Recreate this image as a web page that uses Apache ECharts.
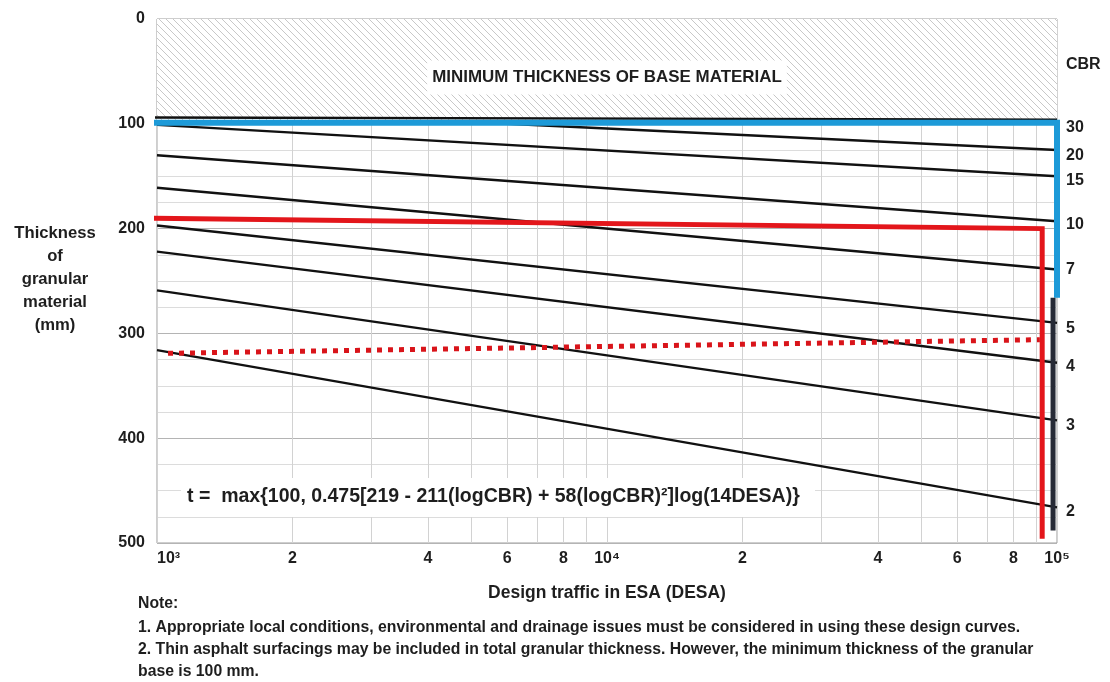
<!DOCTYPE html>
<html><head><meta charset="utf-8">
<script src="https://cdn.jsdelivr.net/npm/echarts@6/dist/echarts.min.js"></script>
<style>html,body{margin:0;padding:0;background:#fff}#c{width:1110px;height:682px}</style>
</head><body><div id="c"></div><script>
// ---------- data ----------
const cbrNames = ['30','20','15','10','7','5','4','3','2'];
const cbr30 = [[871,94],[100000,96]];
const cbr20 = [[1000,100],[6000,100],[100000,125]];
const cbr15 = [[1000,101],[100000,150]];
const cbr10 = [[1000,130],[100000,193]];
const cbr7  = [[1000,161],[100000,239]];
const cbr5  = [[1000,197],[100000,290]];
const cbr4  = [[1000,222],[100000,328]];
const cbr3  = [[1000,259],[100000,383]];
const cbr2  = [[1000,316],[100000,466]];
const cbrLabelMm = [104,130,154,196,239,295,332,388,470];
const blueMin   = [[931,99],[100000,99],[100000,266]];
const darkRight = [[98000,266],[98000,488]];
const redSolid  = [[975,190],[92700,200],[92700,496]];
const redDotted = [[1058,319],[91600,306]];
const xLabelValues = [1000,2000,4000,6000,8000,10000,20000,40000,60000,80000,100000];
const xLabelTexts  = ['10³','2','4','6','8','10⁴','2','4','6','8','10⁵'];
const xGridValues  = [1000,2000,3000,4000,5000,6000,7000,8000,9000,10000,20000,30000,40000,50000,60000,70000,80000,90000,100000];
const yMin = 0, yMax = 500, yStep = 100, yMinorSplit = 4;
const hatchText = 'MINIMUM THICKNESS OF BASE MATERIAL';
const formulaText = 't =  max{100, 0.475[219 - 211(logCBR) + 58(logCBR)²]log(14DESA)}';
const yName = 'Thickness\nof\ngranular\nmaterial\n(mm)';
const xName = 'Design traffic in ESA (DESA)';
const notes = ['Note:',
 '1. Appropriate local conditions, environmental and drainage issues must be considered in using these design curves.',
 '2. Thin asphalt surfacings may be included in total granular thickness. However, the minimum thickness of the granular',
 'base is 100 mm.'];

// ---------- helpers ----------
const FONT = '"Liberation Sans", Arial, Helvetica, sans-serif';
const mctx = document.createElement('canvas').getContext('2d');
function fit(text, w){ mctx.font = 'bold 100px ' + FONT; return +(100*w/mctx.measureText(text).width).toFixed(2); }
function hatch(){
  const s = 7, c = document.createElement('canvas'); c.width = c.height = s;
  const g = c.getContext('2d'); g.fillStyle = '#fff'; g.fillRect(0,0,s,s);
  g.strokeStyle = '#c2c2c2'; g.lineWidth = 0.9; g.beginPath();
  g.moveTo(0,0); g.lineTo(s,s); g.moveTo(-1,s-1); g.lineTo(1,s+1); g.moveTo(s-1,-1); g.lineTo(s+1,1);
  g.stroke(); return c;
}
function nearestIdx(v, arr){ let b=0,d=1e9; arr.forEach((a,i)=>{const e=Math.abs(Math.log10(v)-Math.log10(a)); if(e<d){d=e;b=i;}}); return b; }

const txt = '#1e1e1e';
const curves = [cbr30,cbr20,cbr15,cbr10,cbr7,cbr5,cbr4,cbr3,cbr2];
const series = [];
series.push({type:'line', data:[], z:1, silent:true,
  markArea:{silent:true, itemStyle:{color:{image:hatch(), repeat:'repeat'}},
    label:{show:true, position:'inside', formatter:hatchText, color:txt, fontFamily:FONT, fontWeight:'bold',
      fontSize:fit(hatchText,357)*0.98, backgroundColor:'#fff', padding:[9,5,8,5], offset:[0,6]},
    data:[[{yAxis:0},{yAxis:100}]]}});
curves.forEach((d,i)=>series.push({type:'line', name:'CBR '+cbrNames[i], data:d, showSymbol:false, clip:false, z:3,
  lineStyle:{color:'#111', width:2.4}, silent:true}));
series.push({type:'line', data:blueMin, showSymbol:false, clip:false, z:5, lineStyle:{color:'#1d9ad8', width:6, join:'miter', cap:'butt'}, silent:true});
series.push({type:'line', data:darkRight, showSymbol:false, clip:false, z:5, lineStyle:{color:'#262a36', width:5, cap:'butt'}, silent:true});
series.push({type:'line', data:redSolid, showSymbol:false, clip:false, z:6, lineStyle:{color:'#e3161b', width:5, join:'miter', cap:'butt'}, silent:true});
series.push({type:'line', data:redDotted, showSymbol:false, clip:false, z:6, lineStyle:{color:'#d9141a', width:5, type:[5,6], cap:'butt'}, silent:true});

const noteSize = fit(notes[1], 883);
const graphics = [
  {type:'text', x:55, y:222, z:10, style:{text:yName, textAlign:'center', textVerticalAlign:'top', lineHeight:23, font:'bold '+fit('Thickness',84)*0.97+'px '+FONT, fill:txt}},
  {type:'text', x:1066, y:65, z:10, style:{text:'CBR', textAlign:'left', textVerticalAlign:'middle', font:'bold 16px '+FONT, fill:txt}},
  {type:'rect', z:9, shape:{x:181, y:478, width:634, height:39}, style:{fill:'#fff'}},
  {type:'text', x:187, y:497, z:10, style:{text:formulaText, textAlign:'left', textVerticalAlign:'middle', font:'bold '+fit(formulaText,613)+'px '+FONT, fill:txt}},
];
const noteY = [604,628,650,672];
notes.forEach((t,i)=>graphics.push({type:'text', x:138, y:noteY[i], z:10, style:{text:t, textAlign:'left', textVerticalAlign:'middle', font:'bold '+noteSize+'px '+FONT, fill:txt}}));

const chart = echarts.init(document.getElementById('c'), null, {renderer:'canvas'});
chart.setOption({
  animation:false,
  backgroundColor:'#fff',
  grid:{left:157, right:53, top:19, bottom:139, show:true, borderColor:'#9c9c9c', borderWidth:1, backgroundColor:'transparent'},
  xAxis:{type:'log', logBase:10, min:1000, max:100000,
    axisLine:{show:false}, axisTick:{show:false, customValues:xGridValues},
    splitLine:{show:true, lineStyle:{color:'#d2d2d2', width:1}},
    minorTick:{show:false}, minorSplitLine:{show:false},
    axisLabel:{customValues:xLabelValues, formatter:v=>xLabelTexts[nearestIdx(v,xLabelValues)], color:txt, fontFamily:FONT, fontWeight:'bold', fontSize:16, margin:8, alignMinLabel:'left'},
    name:xName, nameLocation:'middle', nameGap:42, nameTextStyle:{color:txt, fontFamily:FONT, fontWeight:'bold', fontSize:fit(xName,238)}},
  yAxis:[
    {type:'value', inverse:true, min:yMin, max:yMax, interval:yStep,
     axisLine:{show:false}, axisTick:{show:false},
     axisLabel:{color:txt, fontFamily:FONT, fontWeight:'bold', fontSize:16, margin:12},
     splitLine:{show:true, lineStyle:{color:'#b4b4b4'}},
     minorTick:{show:false, splitNumber:yMinorSplit}, minorSplitLine:{show:true, lineStyle:{color:'#dcdcdc'}}},
    {type:'value', inverse:true, min:yMin, max:yMax, position:'right',
     axisLine:{show:false}, axisTick:{show:false}, splitLine:{show:false},
     axisLabel:{customValues:cbrLabelMm, formatter:v=>cbrNames[cbrLabelMm.indexOf(Math.round(v))] ?? '', color:txt, fontFamily:FONT, fontWeight:'bold', fontSize:16, margin:9}}
  ],
  series:series,
  graphic:graphics
});
</script></body></html>
